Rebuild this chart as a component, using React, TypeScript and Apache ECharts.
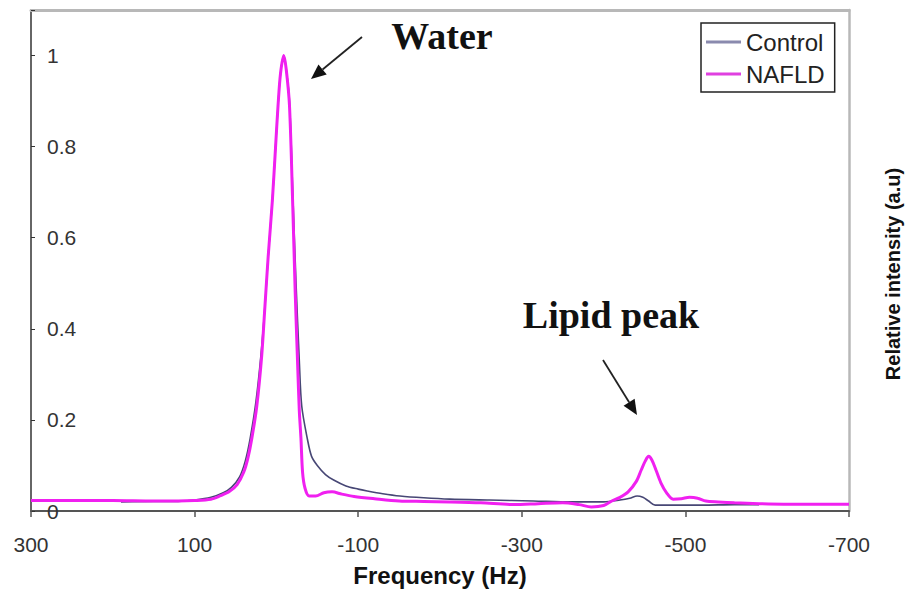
import React, { useEffect, useRef } from "react";
import * as echarts from "echarts";

// Axis ticks
const xTicks = [300, 100, -100, -300, -500, -700];
const yTicks = [0, 0.2, 0.4, 0.6, 0.8, 1];

// NAFLD spectrum (frequency Hz, relative intensity)
const nafldFreq = [
  300, 250, 200, 150, 120, 100, 80, 69, 58, 48, 40, 35, 30, 24, 18, 14, 10, 5, 1, -2, -5, -9, -12, -16,
  -20, -23, -26, -28, -30, -32, -35, -40, -48, -58, -68, -80, -95, -120, -150, -180, -212, -250, -290,
  -320, -350, -370, -385, -400, -410, -420, -430, -440, -446, -451, -455, -459, -464, -470, -477, -485,
  -495, -505, -515, -525, -540, -560, -590, -620, -660, -700,
];
const nafldIntensity = [
  0.023, 0.023, 0.023, 0.022, 0.022, 0.023, 0.026, 0.033, 0.042, 0.058, 0.085, 0.115, 0.16, 0.23, 0.34,
  0.45, 0.56, 0.68, 0.8, 0.89, 0.96, 1.0, 0.97, 0.89, 0.67, 0.48, 0.32, 0.22, 0.16, 0.085, 0.05, 0.033,
  0.033, 0.04, 0.042, 0.037, 0.032, 0.027, 0.022, 0.021, 0.02, 0.018, 0.014, 0.016, 0.018, 0.014, 0.009,
  0.012, 0.022, 0.03, 0.042, 0.065, 0.09, 0.11, 0.12, 0.112, 0.09, 0.062, 0.04, 0.026, 0.027, 0.03, 0.028,
  0.022, 0.02, 0.018, 0.016, 0.015, 0.015, 0.015,
];

// Control spectrum
const controlFreq = [
  190, 150, 120, 100, 80, 65, 55, 45, 38, 32, 25, 19, 14, 10, 5, 1, -2, -5, -9, -12, -16, -20, -24, -28,
  -31, -38, -43, -50, -60, -70, -85, -100, -111, -130, -151, -180, -212, -260, -314, -360, -400, -420,
  -432, -441, -448, -455, -463, -480, -520, -560, -590,
];
const controlIntensity = [
  0.02, 0.021, 0.021, 0.024, 0.03, 0.04, 0.052, 0.075, 0.11, 0.16, 0.24, 0.34, 0.45, 0.56, 0.68, 0.8,
  0.89, 0.96, 1.0, 0.97, 0.9, 0.7, 0.5, 0.33, 0.23, 0.157, 0.12, 0.1, 0.08, 0.068, 0.055, 0.048, 0.044,
  0.038, 0.033, 0.029, 0.026, 0.024, 0.022, 0.02, 0.02, 0.024, 0.028, 0.033, 0.03, 0.022, 0.013, 0.013,
  0.013, 0.014, 0.014,
];

const seriesNames = ["Control", "NAFLD"];
const annotationWater = "Water";
const annotationLipid = "Lipid peak";
const xTitle = "Frequency (Hz)";
const yTitle = "Relative intensity (a.u)";

const SANS = "'Liberation Sans', Arial, Helvetica, sans-serif";
const SERIF = "'Liberation Serif', 'Times New Roman', serif";

function arrow(x1: number, y1: number, x2: number, y2: number, head: number, half: number) {
  const dx = x2 - x1;
  const dy = y2 - y1;
  const len = Math.sqrt(dx * dx + dy * dy);
  const ux = dx / len;
  const uy = dy / len;
  const bx = x2 - head * ux;
  const by = y2 - head * uy;
  const nx = -uy;
  const ny = ux;
  return [
    {
      type: "line",
      shape: { x1, y1, x2: bx, y2: by },
      style: { stroke: "#222", lineWidth: 1.8 },
    },
    {
      type: "polygon",
      shape: {
        points: [
          [x2, y2],
          [bx + half * nx, by + half * ny],
          [bx - half * nx, by - half * ny],
        ],
      },
      style: { fill: "#111" },
    },
  ];
}

export default function App() {
  const ref = useRef<HTMLDivElement>(null);

  useEffect(() => {
    if (!ref.current) return;
    const chart = echarts.init(ref.current, undefined, { renderer: "svg" });
    const nafldData = nafldFreq.map((f, i) => [f, nafldIntensity[i]]);
    const controlData = controlFreq.map((f, i) => [f, controlIntensity[i]]);

    chart.setOption({
      animation: false,
      backgroundColor: "#ffffff",
      grid: { left: 31, top: 10, width: 818, height: 502 },
      legend: {
        data: seriesNames,
        orient: "vertical",
        left: 701,
        top: 23,
        padding: [7, 10, 6, 5],
        itemGap: 8,
        itemWidth: 35,
        itemHeight: 3,
        icon: "rect",
        borderColor: "#222",
        borderWidth: 1.5,
        backgroundColor: "#fff",
        textStyle: { fontSize: 24, color: "#222", fontFamily: SANS },
      },
      xAxis: [
        {
          type: "value",
          min: -700,
          max: 300,
          interval: 200,
          inverse: true,
          name: xTitle,
          nameLocation: "middle",
          nameGap: 52,
          nameTextStyle: { fontSize: 24, fontWeight: "bold", color: "#111", fontFamily: SANS },
          axisLine: { show: true, onZero: false, lineStyle: { color: "#555", width: 2 } },
          axisTick: { show: true, length: 6, lineStyle: { color: "#555", width: 1.5 } },
          axisLabel: {
            fontSize: 21,
            color: "#333",
            margin: 23,
            fontFamily: SANS,
            customValues: xTicks,
          },
          splitLine: { show: false },
        },
        {
          type: "value",
          position: "top",
          min: -700,
          max: 300,
          inverse: true,
          axisLine: { show: true, onZero: false, lineStyle: { color: "#b8b8b8", width: 3 } },
          axisTick: { show: false },
          axisLabel: { show: false },
          splitLine: { show: false },
        },
      ],
      yAxis: [
        {
          type: "value",
          min: 0,
          max: 1.1,
          interval: 0.2,
          axisLine: { show: true, onZero: false, lineStyle: { color: "#333", width: 1.5 } },
          axisTick: { show: true, inside: true, length: 4, lineStyle: { color: "#333" } },
          axisLabel: {
            inside: true,
            margin: 16,
            fontSize: 21,
            color: "#333",
            fontFamily: SANS,
            customValues: yTicks,
          },
          splitLine: { show: false },
        },
        {
          type: "value",
          position: "right",
          min: 0,
          max: 1.1,
          axisLine: { show: true, onZero: false, lineStyle: { color: "#b8b8b8", width: 2.5 } },
          axisTick: { show: false },
          axisLabel: { show: false },
          splitLine: { show: false },
        },
      ],
      series: [
        {
          name: seriesNames[0],
          type: "line",
          data: controlData,
          showSymbol: false,
          symbol: "none",
          smooth: 0.3,
          color: "#8a8aae",
          lineStyle: { color: "#474775", width: 1.6 },
          z: 2,
        },
        {
          name: seriesNames[1],
          type: "line",
          data: nafldData,
          showSymbol: false,
          symbol: "none",
          smooth: 0.3,
          color: "#e040e0",
          lineStyle: { color: "#f020f0", width: 3 },
          z: 3,
        },
      ],
      graphic: [
        {
          type: "text",
          x: 442,
          y: 36,
          style: {
            text: annotationWater,
            fontSize: 38,
            fontWeight: "bold",
            fontFamily: SERIF,
            fill: "#111",
            align: "center",
            verticalAlign: "middle",
          },
        },
        ...arrow(362, 37, 311, 79, 15, 6.5),
        {
          type: "text",
          x: 611,
          y: 315,
          style: {
            text: annotationLipid,
            fontSize: 38,
            fontWeight: "bold",
            fontFamily: SERIF,
            fill: "#111",
            align: "center",
            verticalAlign: "middle",
          },
        },
        ...arrow(603, 360, 637, 415, 15, 6.5),
        {
          type: "text",
          x: 893,
          y: 274,
          rotation: Math.PI / 2,
          style: {
            text: yTitle,
            fontSize: 20,
            fontWeight: "bold",
            fontFamily: SANS,
            fill: "#111",
            align: "center",
            verticalAlign: "middle",
          },
        },
      ],
    });

    return () => chart.dispose();
  }, []);

  return (
    <div
      ref={ref}
      style={{ position: "fixed", left: 0, top: 0, width: 905, height: 592, background: "#fff" }}
    />
  );
}
